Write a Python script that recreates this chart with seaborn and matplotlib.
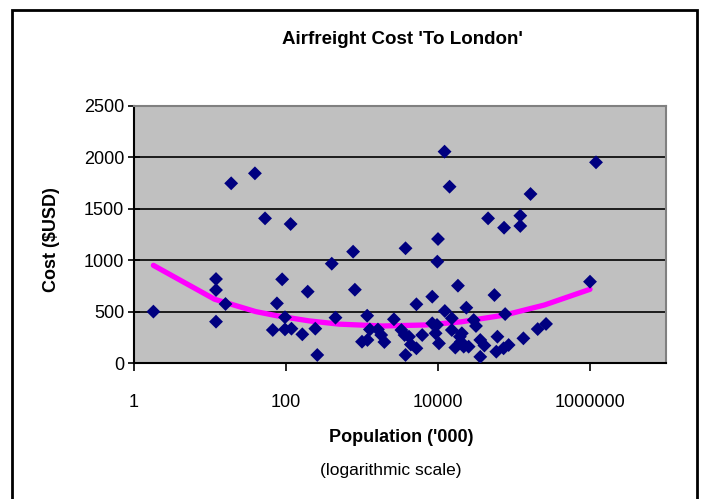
import numpy as np
import pandas as pd
import matplotlib
matplotlib.use("Agg")
import matplotlib.pyplot as plt
import seaborn as sns
from matplotlib.patches import Rectangle

# population ('000) and airfreight cost (USD)
population = [1.8, 12, 12, 12, 16, 19, 39, 53, 115, 89, 76, 97, 67, 97, 118, 164, 193,
              243, 258, 400, 448, 764, 806, 1170, 1000, 1180, 1270, 1620, 1790, 1970,
              2630, 3300, 3630, 3740, 3740, 4400, 4150, 5200, 5200, 6200, 8400, 8400,
              9700, 9300, 10000, 9800, 12200, 14200, 10300, 12300, 15200, 15200, 16900,
              18300, 19400, 21800, 25300, 23600, 29500, 31600, 36000, 40800, 36000,
              45600, 55300, 60500, 58500, 74000, 76500, 85000, 73000, 121000, 121000,
              133000, 165000, 205000, 264000, 1000000, 1200000, 20600, 20000]
cost = [500, 817, 710, 402, 574, 1748, 1845, 1407, 1352, 814, 580, 445, 321, 327, 334,
        279, 694, 334, 78, 966, 441, 1083, 713, 460, 207, 224, 326, 326, 272, 204,
        425, 321, 272, 78, 1116, 180, 256, 143, 571, 272, 645, 386,
        370, 289, 1206, 986, 2056, 1715, 191, 506, 435, 321, 150,
        752, 256, 159, 159, 538, 418, 360, 224, 170, 60,
        1407, 661, 256, 110, 1316, 476, 175, 143, 1433, 1333,
        240, 1644, 330, 380, 791, 1952, 289, 207]

# trend line as drawn on the chart
trend_pop = [1.8, 11.5, 40, 79, 200, 500, 1860, 6900, 20000, 76000, 251000, 1000000]
trend_cost = [950, 620, 500, 457, 410, 378, 360, 370, 400, 467, 564, 717]

x_ticks = [1, 100, 10000, 1000000]
y_ticks = [0, 500, 1000, 1500, 2000, 2500]

df = pd.DataFrame({"pop": population, "cost": cost})
trend = pd.DataFrame({"pop": trend_pop, "cost": trend_cost})

sns.set_style("white")
plt.rcParams["font.family"] = ["Liberation Sans", "DejaVu Sans"]
plt.rcParams["text.color"] = "black"
plt.rcParams["xtick.color"] = "black"
plt.rcParams["ytick.color"] = "black"

fig = plt.figure(figsize=(7.04, 4.99), dpi=100)
ax = fig.add_axes([134 / 704, 1 - 363 / 499, 532 / 704, 257 / 499])
ax.set_facecolor("#C0C0C0")

ax.set_xscale("log")
for v in y_ticks[1:-1]:
    ax.axhline(v, color="black", lw=1.2, zorder=1)

sns.lineplot(data=trend, x="pop", y="cost", sort=False, color="#FF00FF", lw=3.8,
             ax=ax, zorder=2)
sns.scatterplot(data=df, x="pop", y="cost", marker="D", s=50, color="#000080",
                edgecolor="none", ax=ax, zorder=3)

ax.set_xlim(1, 1e7)
ax.set_ylim(0, 2500)
ax.set_xticks(x_ticks)
ax.set_xticklabels([str(t) for t in x_ticks])
ax.xaxis.set_minor_locator(matplotlib.ticker.NullLocator())
ax.set_yticks(y_ticks)
ax.set_yticklabels([str(t) for t in y_ticks])
ax.tick_params(axis="x", direction="out", length=6, width=1.2, labelsize=13, pad=16,
               bottom=True)
ax.tick_params(axis="y", direction="inout", length=8, width=1.2, labelsize=13, pad=3,
               left=True)
ax.set_xlabel("")
ax.set_ylabel("")

for side in ["top", "right"]:
    ax.spines[side].set_color("#808080")
    ax.spines[side].set_linewidth(1.5)
for side in ["left", "bottom"]:
    ax.spines[side].set_color("black")
    ax.spines[side].set_linewidth(1.5)

fig.text(402 / 704, 1 - 40 / 499, "Airfreight Cost 'To London'", ha="center",
         va="center", fontsize=13.5, fontweight="bold")
fig.text(401 / 704, 1 - 437 / 499, "Population ('000)", ha="center", va="center",
         fontsize=13, fontweight="bold")
fig.text(391 / 704, 1 - 470 / 499, "(logarithmic scale)", ha="center", va="center",
         fontsize=12.5)
fig.text(52 / 704, 1 - 240 / 499, "Cost ($USD)", ha="center", va="center",
         rotation=90, fontsize=13, fontweight="bold")

fig.patches.append(Rectangle((12 / 704, -0.05), 685 / 704, 1.05 - 10 / 499,
                             transform=fig.transFigure, fill=False,
                             edgecolor="black", lw=2))

fig.savefig("out.png", dpi=100)
